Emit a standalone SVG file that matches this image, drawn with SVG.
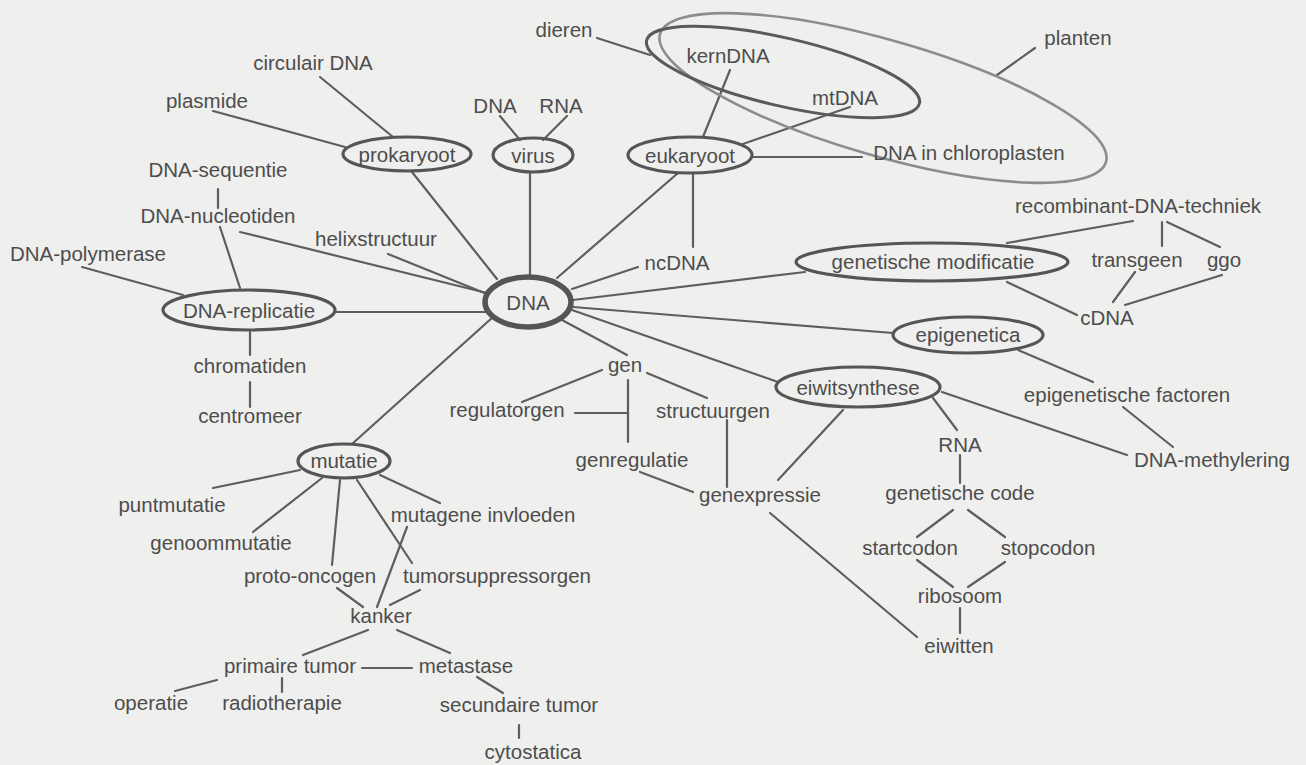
<svg xmlns="http://www.w3.org/2000/svg" width="1306" height="765" viewBox="0 0 1306 765">
<style>
text{font-family:"Liberation Sans",Arial,sans-serif;font-size:20.5px;fill:#4d4d4d;text-anchor:middle}
.c line{stroke:#5e5e5e;stroke-width:2.2;stroke-linecap:round}
.o{fill:none;stroke:#555;stroke-width:3.2}
.hub{fill:none;stroke:#555;stroke-width:5.5}
.setd{fill:none;stroke:#5a5a5a;stroke-width:3}
.setl{fill:none;stroke:#8c8c8c;stroke-width:2.6}
</style>
<rect width="1306" height="765" fill="#efefed"/>
<g id="connectors" class="c">
<line x1="412" y1="172" x2="497" y2="279"/>
<line x1="530" y1="172" x2="530" y2="277"/>
<line x1="678" y1="173" x2="557" y2="278"/>
<line x1="572" y1="289" x2="638" y2="267"/>
<line x1="388" y1="254" x2="487" y2="294"/>
<line x1="240" y1="232" x2="487" y2="293"/>
<line x1="335" y1="312" x2="486" y2="312"/>
<line x1="352" y1="444" x2="493" y2="317"/>
<line x1="562" y1="320" x2="627" y2="355"/>
<line x1="572" y1="310" x2="778" y2="382"/>
<line x1="573" y1="307" x2="893" y2="333"/>
<line x1="573" y1="300" x2="805" y2="272"/>
<line x1="320" y1="77" x2="393" y2="137"/>
<line x1="213" y1="111" x2="345" y2="147"/>
<line x1="500" y1="116" x2="520" y2="140"/>
<line x1="567" y1="116" x2="543" y2="140"/>
<line x1="730" y1="70" x2="703" y2="137"/>
<line x1="850" y1="107" x2="740" y2="145"/>
<line x1="752" y1="157" x2="862" y2="157"/>
<line x1="693" y1="173" x2="693" y2="247"/>
<line x1="597" y1="38" x2="650" y2="55"/>
<line x1="1035" y1="48" x2="997" y2="75"/>
<line x1="1133" y1="221" x2="1007" y2="243"/>
<line x1="1162" y1="222" x2="1162" y2="246"/>
<line x1="1167" y1="222" x2="1220" y2="247"/>
<line x1="1135" y1="272" x2="1113" y2="302"/>
<line x1="1222" y1="275" x2="1125" y2="305"/>
<line x1="1007" y1="282" x2="1077" y2="315"/>
<line x1="1018" y1="350" x2="1093" y2="382"/>
<line x1="1123" y1="407" x2="1173" y2="447"/>
<line x1="942" y1="392" x2="1127" y2="455"/>
<line x1="933" y1="398" x2="957" y2="430"/>
<line x1="960" y1="455" x2="960" y2="483"/>
<line x1="843" y1="410" x2="778" y2="480"/>
<line x1="953" y1="510" x2="917" y2="537"/>
<line x1="968" y1="510" x2="1005" y2="537"/>
<line x1="917" y1="560" x2="953" y2="587"/>
<line x1="1005" y1="562" x2="968" y2="587"/>
<line x1="960" y1="608" x2="960" y2="633"/>
<line x1="770" y1="513" x2="917" y2="637"/>
<line x1="602" y1="370" x2="522" y2="402"/>
<line x1="647" y1="373" x2="707" y2="398"/>
<line x1="628" y1="380" x2="628" y2="442"/>
<line x1="575" y1="413" x2="628" y2="413"/>
<line x1="640" y1="472" x2="693" y2="492"/>
<line x1="727" y1="420" x2="727" y2="487"/>
<line x1="300" y1="470" x2="213" y2="488"/>
<line x1="322" y1="478" x2="253" y2="532"/>
<line x1="340" y1="480" x2="332" y2="565"/>
<line x1="357" y1="480" x2="412" y2="563"/>
<line x1="380" y1="475" x2="440" y2="503"/>
<line x1="337" y1="588" x2="363" y2="607"/>
<line x1="420" y1="590" x2="390" y2="605"/>
<line x1="407" y1="527" x2="377" y2="607"/>
<line x1="368" y1="630" x2="303" y2="655"/>
<line x1="397" y1="630" x2="450" y2="653"/>
<line x1="362" y1="668" x2="412" y2="668"/>
<line x1="217" y1="680" x2="175" y2="691"/>
<line x1="282" y1="678" x2="282" y2="692"/>
<line x1="477" y1="677" x2="503" y2="693"/>
<line x1="519" y1="725" x2="519" y2="738"/>
<line x1="82" y1="267" x2="183" y2="295"/>
<line x1="220" y1="227" x2="240" y2="288"/>
<line x1="250" y1="332" x2="250" y2="355"/>
<line x1="250" y1="382" x2="250" y2="407"/>
<line x1="218" y1="189" x2="218" y2="208"/>
</g>
<g id="set-planten"><ellipse class="setl" cx="883" cy="98" rx="232" ry="58" transform="rotate(16 883 98)"/></g>
<g id="set-dieren"><ellipse class="setd" cx="783" cy="72" rx="140" ry="34" transform="rotate(13 783 72)"/></g>
<g id="n-dna"><ellipse class="hub" cx="528" cy="302" rx="43" ry="25"/><text x="528" y="310">DNA</text></g>
<g id="n-prokaryoot"><ellipse class="o" cx="407" cy="154" rx="64" ry="17"/><text x="407" y="162">prokaryoot</text></g>
<g id="n-virus"><ellipse class="o" cx="533" cy="155" rx="40" ry="17"/><text x="533" y="163">virus</text></g>
<g id="n-eukaryoot"><ellipse class="o" cx="690" cy="155" rx="62" ry="18"/><text x="690" y="163">eukaryoot</text></g>
<g id="n-circulair"><text x="313" y="70">circulair DNA</text></g>
<g id="n-plasmide"><text x="207" y="108">plasmide</text></g>
<g id="n-dna-sequentie"><text x="218" y="177">DNA-sequentie</text></g>
<g id="n-dna-nucleotiden"><text x="218" y="223">DNA-nucleotiden</text></g>
<g id="n-helixstructuur"><text x="376" y="246">helixstructuur</text></g>
<g id="n-dna-polymerase"><text x="88" y="261">DNA-polymerase</text></g>
<g id="n-dna-replicatie"><ellipse class="o" cx="249" cy="310" rx="86" ry="20"/><text x="249" y="318">DNA-replicatie</text></g>
<g id="n-chromatiden"><text x="250" y="373">chromatiden</text></g>
<g id="n-centromeer"><text x="250" y="423">centromeer</text></g>
<g id="n-mutatie"><ellipse class="o" cx="344" cy="461" rx="46" ry="17"/><text x="344" y="468">mutatie</text></g>
<g id="n-puntmutatie"><text x="172" y="512">puntmutatie</text></g>
<g id="n-genoommutatie"><text x="221" y="550">genoommutatie</text></g>
<g id="n-proto-oncogen"><text x="310" y="583">proto-oncogen</text></g>
<g id="n-tumorsuppressorgen"><text x="497" y="583">tumorsuppressorgen</text></g>
<g id="n-mutagene-invloeden"><text x="483" y="522">mutagene invloeden</text></g>
<g id="n-kanker"><text x="381" y="623">kanker</text></g>
<g id="n-primaire-tumor"><text x="290" y="673">primaire tumor</text></g>
<g id="n-metastase"><text x="466" y="673">metastase</text></g>
<g id="n-operatie"><text x="151" y="710">operatie</text></g>
<g id="n-radiotherapie"><text x="282" y="710">radiotherapie</text></g>
<g id="n-secundaire-tumor"><text x="519" y="712">secundaire tumor</text></g>
<g id="n-cytostatica"><text x="533" y="759">cytostatica</text></g>
<g id="n-dieren"><text x="564" y="37">dieren</text></g>
<g id="n-kerndna"><text x="728" y="63">kernDNA</text></g>
<g id="n-mtdna"><text x="845" y="105">mtDNA</text></g>
<g id="n-virus-dna"><text x="495" y="113">DNA</text></g>
<g id="n-virus-rna"><text x="561" y="113">RNA</text></g>
<g id="n-chloroplasten"><text x="969" y="160">DNA in chloroplasten</text></g>
<g id="n-planten"><text x="1078" y="45">planten</text></g>
<g id="n-ncdna"><text x="677" y="270">ncDNA</text></g>
<g id="n-genetische-modificatie"><ellipse class="o" cx="932" cy="262" rx="136" ry="19"/><text x="933" y="269">genetische modificatie</text></g>
<g id="n-recombinant"><text x="1138" y="213">recombinant-DNA-techniek</text></g>
<g id="n-transgeen"><text x="1137" y="267">transgeen</text></g>
<g id="n-ggo"><text x="1224" y="267">ggo</text></g>
<g id="n-cdna"><text x="1107" y="325">cDNA</text></g>
<g id="n-epigenetica"><ellipse class="o" cx="968" cy="335" rx="75" ry="18"/><text x="968" y="342">epigenetica</text></g>
<g id="n-eiwitsynthese"><ellipse class="o" cx="858" cy="387" rx="82" ry="20"/><text x="858" y="395">eiwitsynthese</text></g>
<g id="n-epigenetische-factoren"><text x="1127" y="402">epigenetische factoren</text></g>
<g id="n-rna"><text x="960" y="452">RNA</text></g>
<g id="n-dna-methylering"><text x="1212" y="467">DNA-methylering</text></g>
<g id="n-genetische-code"><text x="960" y="500">genetische code</text></g>
<g id="n-startcodon"><text x="910" y="555">startcodon</text></g>
<g id="n-stopcodon"><text x="1048" y="555">stopcodon</text></g>
<g id="n-ribosoom"><text x="960" y="603">ribosoom</text></g>
<g id="n-eiwitten"><text x="959" y="653">eiwitten</text></g>
<g id="n-genexpressie"><text x="760" y="502">genexpressie</text></g>
<g id="n-gen"><text x="625" y="372">gen</text></g>
<g id="n-regulatorgen"><text x="507" y="417">regulatorgen</text></g>
<g id="n-structuurgen"><text x="713" y="418">structuurgen</text></g>
<g id="n-genregulatie"><text x="632" y="467">genregulatie</text></g>
</svg>
